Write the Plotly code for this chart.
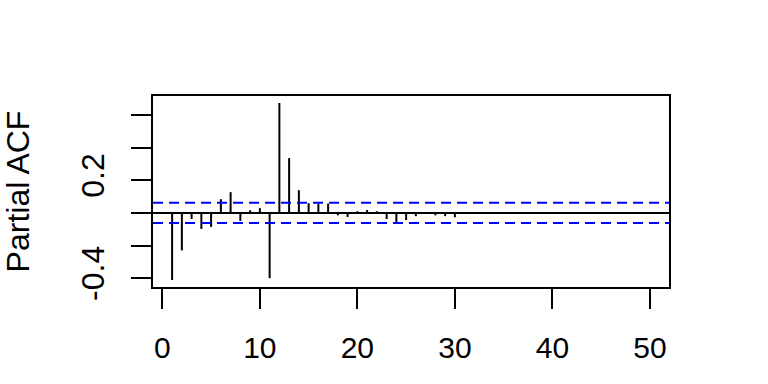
import plotly.graph_objects as go

lags = list(range(1, 51))
pacf = [-0.411, -0.230, -0.037, -0.098, -0.086, 0.084, 0.127, -0.049, 0.016, 0.029,
        -0.400, 0.673, 0.336, 0.139, 0.059, 0.057, 0.057, -0.015, -0.025, 0.010,
        0.018, 0.010, -0.038, -0.057, -0.044, -0.020, -0.003, -0.015, -0.020, -0.027] + [0.0] * 20
conf_limit = 0.062

x_ticks = [0, 10, 20, 30, 40, 50]
y_ticks = [-0.4, -0.2, 0.0, 0.2, 0.4, 0.6]
y_ticktext = ["-0.4", "", "", "0.2", "", ""]

xs, ys = [], []
for l, v in zip(lags, pacf):
    xs += [l, l, None]
    ys += [0, v, None]

xmin, xmax = -0.96, 51.96
ymin, ymax = -0.454, 0.716

fig = go.Figure()
fig.add_trace(go.Scatter(x=xs, y=ys, mode="lines", line=dict(color="black", width=2),
                         hoverinfo="skip", showlegend=False))
fig.add_trace(go.Scatter(x=[xmin, xmax], y=[0, 0], mode="lines",
                         line=dict(color="black", width=2), showlegend=False))
for c in (conf_limit, -conf_limit):
    fig.add_trace(go.Scatter(x=[xmin, xmax], y=[c, c], mode="lines",
                             line=dict(color="#0000ff", width=2, dash="10px,6px"),
                             showlegend=False))

font = "Liberation Sans, Arial, sans-serif"
fig.update_layout(
    width=768, height=384,
    margin=dict(l=153, r=99, t=96, b=97),
    paper_bgcolor="white", plot_bgcolor="white",
    font=dict(family=font, size=29, color="black"),
    showlegend=False,
    xaxis=dict(range=[xmin, xmax], tickvals=x_ticks, ticktext=[str(t) for t in x_ticks],
               showline=True, mirror=True, linecolor="black", linewidth=2,
               ticks="outside", ticklen=20, tickwidth=2, tickcolor="black",
               showgrid=False, zeroline=False, ticklabelstandoff=13,
               tickfont=dict(size=30)),
    yaxis=dict(range=[ymin, ymax], tickvals=y_ticks, ticktext=y_ticktext,
               showline=True, mirror=True, linecolor="black", linewidth=2,
               ticks="outside", ticklen=20, tickwidth=2, tickcolor="black",
               showgrid=False, zeroline=False, tickangle=-90, ticklabelstandoff=14,
               tickfont=dict(size=32),
               title=dict(text="Partial ACF", standoff=40, font=dict(size=32))),
)
fig.write_html("out.html")
